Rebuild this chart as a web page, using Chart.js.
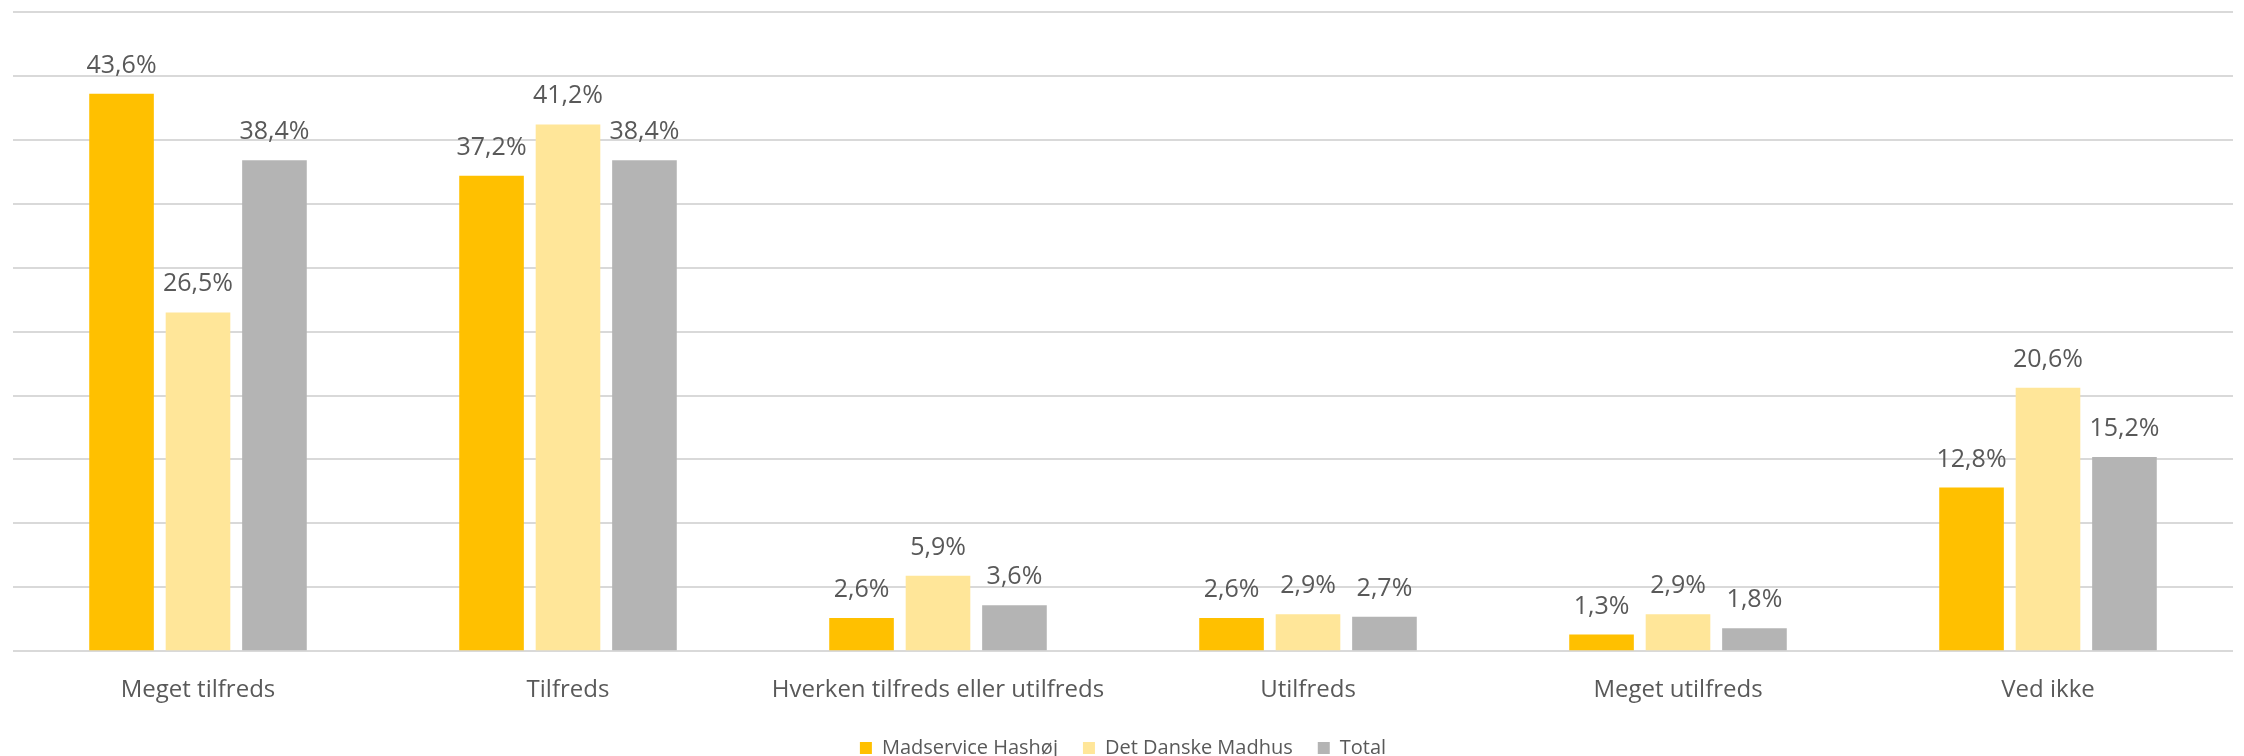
<!DOCTYPE html>
<html>
<head>
<meta charset="utf-8">
<script src="https://cdn.jsdelivr.net/npm/chart.js@4/dist/chart.umd.min.js"></script>
<style>
  html, body { margin: 0; padding: 0; background: #fff; }
  #wrap { width: 2244px; height: 756px; position: relative; }
</style>
</head>
<body>
<div id="wrap"><canvas id="myChart"></canvas></div>
<script>
// --- data ---
const categories = ["Meget tilfreds", "Tilfreds", "Hverken tilfreds eller utilfreds", "Utilfreds", "Meget utilfreds", "Ved ikke"];
const seriesNames = ["Madservice Hashøj", "Det Danske Madhus", "Total"];
const madserviceHashoj = [43.6, 37.2, 2.6, 2.6, 1.3, 12.8];
const detDanskeMadhus = [26.5, 41.2, 5.9, 2.9, 2.9, 20.6];
const total = [38.4, 38.4, 3.6, 2.7, 1.8, 15.2];
const colors = ["#FFC000", "#FFE699", "#B4B4B4"];

const FONT = "'Open Sans', 'Liberation Sans', sans-serif";
const fmt = (v) => v.toFixed(1).replace(".", ",") + "%";

// draws value labels above each bar
const barLabels = {
  id: "barLabels",
  afterDatasetsDraw(chart) {
    const ctx = chart.ctx;
    ctx.save();
    ctx.font = "25px " + FONT;
    ctx.fillStyle = "#595959";
    ctx.textAlign = "center";
    ctx.textBaseline = "alphabetic";
    chart.data.datasets.forEach((ds, i) => {
      chart.getDatasetMeta(i).data.forEach((bar, j) => {
        ctx.fillText(fmt(ds.data[j]), bar.x, bar.y - 21);
      });
    });
    ctx.restore();
  },
};

const ctx = document.getElementById("myChart").getContext("2d");
const myChart = new Chart(ctx, {
  type: "bar",
  data: {
    labels: categories,
    datasets: [
      { label: seriesNames[0], data: madserviceHashoj, backgroundColor: colors[0] },
      { label: seriesNames[1], data: detDanskeMadhus, backgroundColor: colors[1] },
      { label: seriesNames[2], data: total, backgroundColor: colors[2] },
    ],
  },
  options: {
    responsive: true,
    maintainAspectRatio: false,
    animation: false,
    devicePixelRatio: 1,
    categoryPercentage: 0.62,
    barPercentage: 0.845,
    layout: { padding: { left: 13, right: 11, top: 12, bottom: -12 } },
    plugins: {
      tooltip: { enabled: false },
      legend: {
        position: "bottom",
        labels: {
          font: { family: FONT, size: 20 },
          color: "#595959",
          boxWidth: 12,
          boxHeight: 12,
          padding: 25,
        },
      },
    },
    scales: {
      x: {
        grid: { display: false },
        border: { display: false },
        ticks: { font: { family: FONT, size: 24 }, color: "#595959", padding: 17, maxRotation: 0 },
        afterFit: (scale) => { scale.height -= 9; },
      },
      y: {
        min: 0,
        max: 50,
        ticks: { display: false, stepSize: 5 },
        border: { display: false },
        grid: { color: "#D9D9D9", lineWidth: 2, drawTicks: false },
      },
    },
  },
  plugins: [barLabels],
});
</script>
</body>
</html>
